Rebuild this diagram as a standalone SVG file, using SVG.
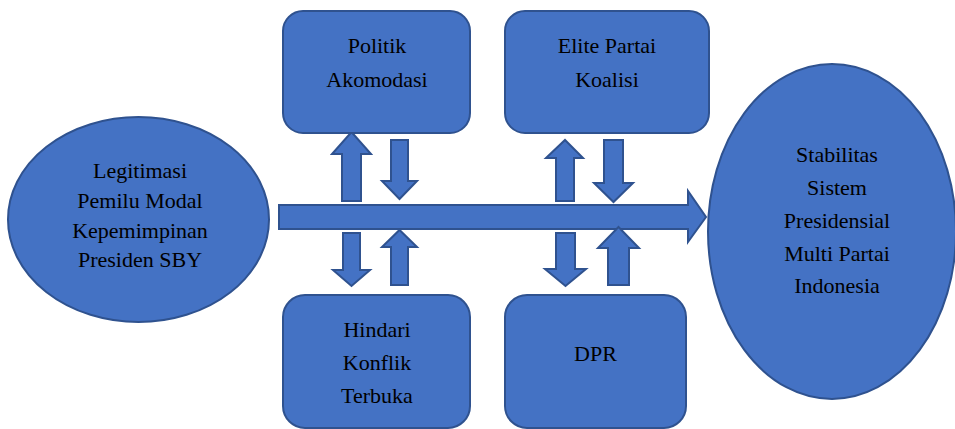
<svg xmlns="http://www.w3.org/2000/svg" width="955" height="429" viewBox="0 0 955 429">
<style>
.s{fill:#4472C4;stroke:#2F528F;stroke-width:2;stroke-linejoin:miter}
.t{font-family:"Liberation Serif","Times New Roman",serif;font-size:22px;fill:#000;text-anchor:middle}
</style>
<rect width="955" height="429" fill="#fff"/>
<g id="connectors">
<path class="s" d="M279,205 H688 V191 L706,217 L688,242 V229 H279 Z"/>
<path class="s" d="M342,201 V154 H332 L351.5,132 L371,154 H361 V201 Z"/>
<path class="s" d="M391,140 H408 V181 H417 L399.5,199 L382,181 H391 Z"/>
<path class="s" d="M556,201 V158 H546 L565,140 L583,158 H574 V201 Z"/>
<path class="s" d="M604,140 H623 V183 H633 L613.5,202 L594,183 H604 Z"/>
<path class="s" d="M343,233 H360 V270 H370 L351.5,286 L333,270 H343 Z"/>
<path class="s" d="M391,285 V247 H382 L399.5,230 L417,247 H408 V285 Z"/>
<path class="s" d="M556,233 H575 V269 H586 L565.5,286 L545,269 H556 Z"/>
<path class="s" d="M608,285 V248 H598 L618.5,227 L639,248 H629 V285 Z"/>
</g>
<g id="legitimasi">
<ellipse class="s" cx="138.5" cy="219.5" rx="130.5" ry="102.5"/>
<text class="t" x="140" y="178">Legitimasi</text>
<text class="t" x="140" y="208">Pemilu Modal</text>
<text class="t" x="140" y="238">Kepemimpinan</text>
<text class="t" x="140" y="267">Presiden SBY</text>
</g>
<g id="politik">
<rect class="s" x="283" y="11" width="187" height="122" rx="20"/>
<text class="t" x="377" y="53">Politik</text>
<text class="t" x="377" y="87">Akomodasi</text>
</g>
<g id="elite">
<rect class="s" x="505" y="11" width="204" height="122" rx="20"/>
<text class="t" x="607" y="53">Elite Partai</text>
<text class="t" x="607" y="87">Koalisi</text>
</g>
<g id="hindari">
<rect class="s" x="283" y="295" width="187" height="133" rx="22"/>
<text class="t" x="377" y="337">Hindari</text>
<text class="t" x="377" y="370">Konflik</text>
<text class="t" x="377" y="403">Terbuka</text>
</g>
<g id="dpr">
<rect class="s" x="505" y="295" width="181" height="133" rx="22"/>
<text class="t" x="595.5" y="361">DPR</text>
</g>
<g id="stabilitas">
<ellipse class="s" cx="832" cy="231.5" rx="124" ry="167.5"/>
<text class="t" x="837" y="162">Stabilitas</text>
<text class="t" x="837" y="195">Sistem</text>
<text class="t" x="837" y="228">Presidensial</text>
<text class="t" x="837" y="261">Multi Partai</text>
<text class="t" x="837" y="293">Indonesia</text>
</g>
</svg>
